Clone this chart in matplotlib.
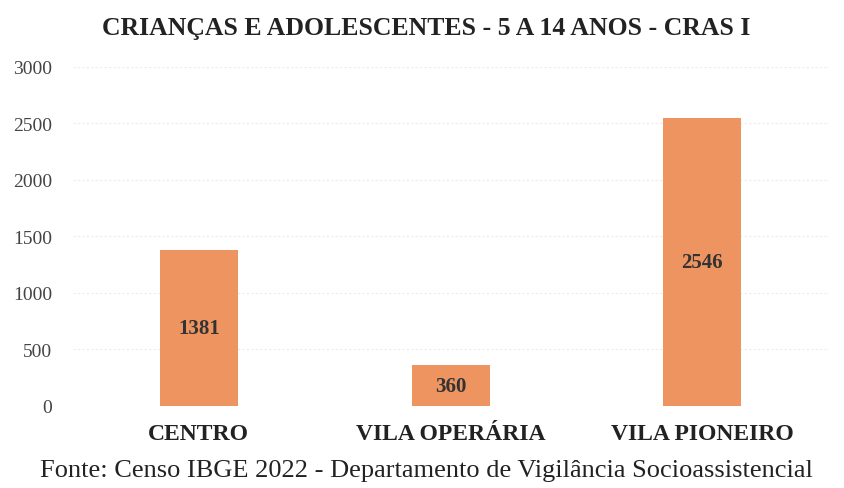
import numpy as np
import matplotlib.pyplot as plt

# Data
categories = ['CENTRO', 'VILA OPERÁRIA', 'VILA PIONEIRO']
values = [1381, 360, 2546]
yticks = [0, 500, 1000, 1500, 2000, 2500, 3000]

plt.rcParams['font.family'] = ['Liberation Serif', 'DejaVu Serif']

fig = plt.figure(figsize=(8.45, 4.89), dpi=100)
ax = fig.add_axes([0.0864, 0.1677, 0.8936, 0.6933])

x = np.arange(len(categories))
bars = ax.bar(x, values, width=0.31, color='#EE9460', zorder=2)

for b, v in zip(bars, values):
    ax.text(b.get_x() + b.get_width() / 2, v / 2, str(v),
            ha='center', va='center', fontsize=15, fontweight='bold',
            color='#333333', zorder=3)

ax.set_xlim(-0.5, 2.5)
ax.set_ylim(0, 3000)
ax.set_yticks(yticks)
ax.set_yticklabels([str(t) for t in yticks], fontsize=14, color='#444444')
ax.set_xticks(x)
ax.set_xticklabels(categories, fontsize=17, fontweight='bold', color='#222222')
ax.tick_params(axis='both', length=0)
ax.tick_params(axis='y', pad=15)
ax.tick_params(axis='x', pad=12)

ax.yaxis.grid(True, color='#ececec', linestyle=(0, (2, 2)), linewidth=0.8, zorder=0)
for s in ax.spines.values():
    s.set_visible(False)

fig.text(0.504, 0.942, 'CRIANÇAS E ADOLESCENTES - 5 A 14 ANOS - CRAS I',
         ha='center', va='center', fontsize=18.5, fontweight='bold', color='#222222')
fig.text(0.505, 0.037, 'Fonte: Censo IBGE 2022 - Departamento de Vigilância Socioassistencial',
         ha='center', va='center', fontsize=19, color='#222222')

fig.savefig('out.png', dpi=100)
